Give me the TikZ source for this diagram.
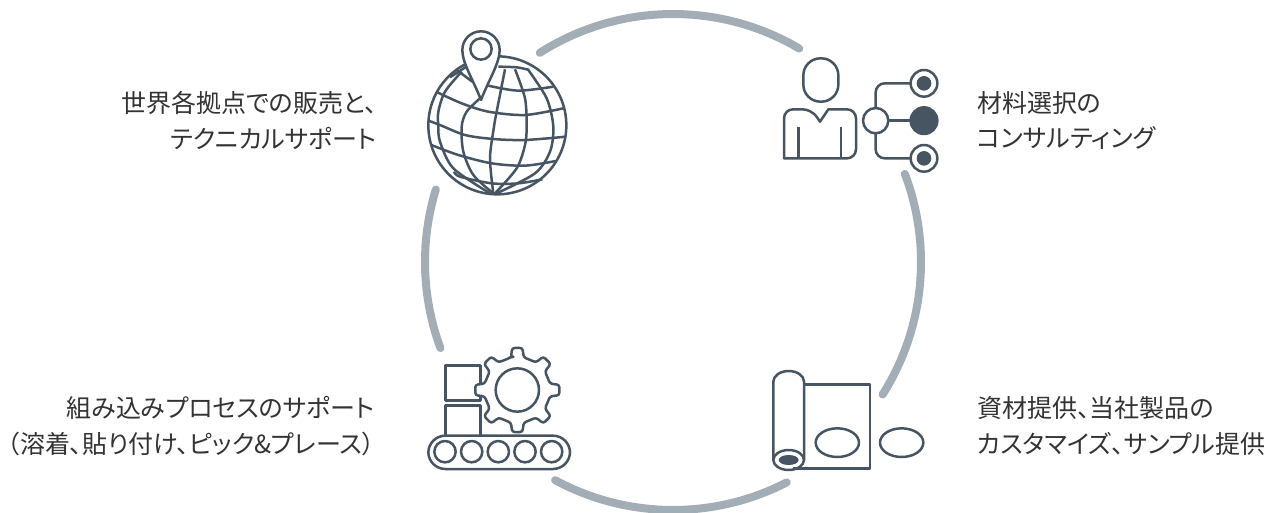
\documentclass[tikz,border=0pt]{standalone}
\usepackage{fontspec}
\setmainfont[RawFeature=+palt]{Noto Sans CJK JP}
\definecolor{icon}{HTML}{465561}
\definecolor{ring}{HTML}{A3ADB5}
\definecolor{txt}{HTML}{333333}
\tikzset{
  ringarc/.style={draw=ring,line width=8pt,line cap=round},
  ln/.style={draw=icon,line width=2.5pt},
  lnw/.style={ln,fill=white},
  dark/.style={fill=icon},
  lbl/.style={inner sep=0pt,text=txt,font=\fontsize{25}{35.5}\selectfont},
}
\begin{document}
\begin{tikzpicture}[x=1pt,y=-1pt,line join=round]
\useasboundingbox (0,0) rectangle (1271,513);
% ring
\coordinate (c) at (673,262);
\draw[ringarc] (c) ++(-122.5:248) arc[start angle=-122.5,end angle=-59.4,radius=248];
\draw[ringarc] (c) ++(-20.8:248) arc[start angle=-20.8,end angle=32.3,radius=248];
\draw[ringarc] (c) ++(62.7:248) arc[start angle=62.7,end angle=118.4,radius=248];
\draw[ringarc] (c) ++(159.7:248) arc[start angle=159.7,end angle=197,radius=248];
% globe
\begin{scope}[shift={(410,20)},x=.33333pt,y=-.33333pt]
\draw[lnw] (262,316) circle[radius=207];
\draw[ln] plot[smooth] coordinates {(265,140)(320,142)(358,150)};
\draw[ln] plot[smooth] coordinates {(235,197)(325,212)(430,200)};
\draw[ln] plot[smooth] coordinates {(82,217)(155,250)(235,275)(345,285)(460,265)};
\draw[ln] plot[smooth] coordinates {(58,303)(90,315)(165,345)(250,357)(345,360)(468,350)};
\draw[ln] plot[smooth] coordinates {(64,375)(145,405)(245,430)(345,437)(437,423)};
\draw[ln] plot[smooth] coordinates {(132,455)(150,470)(245,490)(325,490)(397,478)};
\draw[ln] (140,150)--(187,185) (120,172)--(172,138);
\draw[ln] plot[smooth] coordinates {(285,148)(260,275)(252,320)(240,415)(250,520)};
\draw[ln] plot[smooth] coordinates {(315,148)(345,235)(350,320)(345,375)(320,445)(255,520)};
\draw[ln] plot[smooth] coordinates {(355,150)(410,235)(430,320)(420,395)(375,460)(260,520)};
\draw[ln] plot[smooth] coordinates {(210,235)(170,275)(155,320)(160,395)(190,465)(250,520)};
\draw[ln] plot[smooth] coordinates {(155,155)(105,215)(85,275)(85,320)(90,365)(130,445)(240,520)};
\draw[lnw] (213,240) .. controls (190,180) and (157,130) .. (157,90)
  arc[start angle=180,end angle=360,radius=56]
  .. controls (269,130) and (236,180) .. (213,240) -- cycle;
\draw[ln] (213,87) circle[radius=32];
\end{scope}
% person + tree
\begin{scope}[shift={(770,50)},x=.33333pt,y=-.33333pt]
\draw[ln,rounded corners=17pt] (100,25) rectangle (205,155);
\draw[ln,rounded corners=9pt] (42,325) -- (42,178) -- (125,178) [sharp corners] -- (150,215) -- (175,178) [rounded corners=9pt] -- (258,178) -- (258,325) [sharp corners] -- cycle;
\draw[ln] (85,232)--(85,325) (213,232)--(213,325);
\draw[ln,rounded corners=9pt] (425,100) -- (317,100) -- (317,175);
\draw[ln,rounded corners=9pt] (425,325) -- (317,325) -- (317,250);
\draw[ln] (355,212) -- (425,212);
\draw[ln] (317,212) circle[radius=38];
\draw[ln,dark] (462,212) circle[radius=40];
\draw[ln] (462,100) circle[radius=40];
\fill[icon] (462,100) circle[radius=22];
\draw[ln] (462,325) circle[radius=40];
\fill[icon] (462,325) circle[radius=22];
\end{scope}
% conveyor + gear
\begin{scope}[shift={(415,335)},x=.33333pt,y=-.33333pt]
\draw[ln] (92,92) rectangle (197,197);
\draw[ln] (92,300) -- (92,212) -- (197,212) -- (197,300);
\begin{scope}[shift={(307,165)}]
\draw[lnw,rounded corners=2.5pt]
  (-100:100)
  \foreach \a in {-90,-45,0,45,90,135,180,225}{
    -- (\a-11:100) -- (\a-7:127) -- (\a+7:127) -- (\a+11:100)
  } -- cycle;
\draw[ln] (0,0) circle[radius=65];
\end{scope}
\draw[ln,rounded corners=17pt] (40,302) rectangle (465,402);
\foreach \x in {90,170,250,330,410}{\draw[ln] (\x,350) circle[radius=32];}
\end{scope}
% roll
\begin{scope}[shift={(760,360)},x=.33333pt,y=-.33333pt]
\draw[ln] (132,73) -- (330,73) -- (330,325) -- (100,325);
\draw[ln] (40,300) -- (40,65) arc[start angle=180,end angle=360,x radius=46,y radius=32] -- (132,300);
\draw[ln] (86,300) ellipse[x radius=46,y radius=30];
\fill[icon] (86,300) ellipse[x radius=30,y radius=15];
\draw[ln] (232,248) ellipse[x radius=65,y radius=43];
\draw[ln] (425,248) ellipse[x radius=65,y radius=43];
\end{scope}
% labels
\node[lbl,anchor=east,align=right] (t1) at (377,120.5) {世界各拠点での販売と、\\テクニカルサポート};
\node[lbl,anchor=west,align=left] (t2) at (977,120.5) {材料選択の\\コンサルティング};
\node[lbl,anchor=west,align=left] (t3) at (977,426) {資材提供、当社製品の\\カスタマイズ、サンプル提供};
\node[lbl,anchor=east,align=right] (t4) at (375,426) {組み込みプロセスのサポート\\（溶着、貼り付け、ピック\&プレース）};
\end{tikzpicture}
\end{document}
